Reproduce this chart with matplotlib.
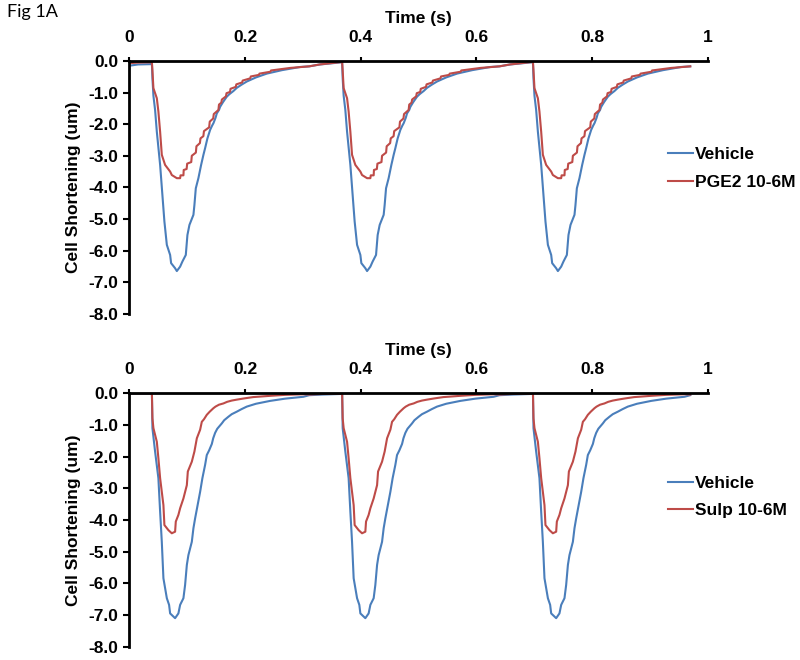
import numpy as np
import matplotlib
matplotlib.use("Agg")
import matplotlib.pyplot as plt

plt.rcParams['font.family'] = ['Liberation Sans', 'DejaVu Sans']
plt.rcParams['axes.unicode_minus'] = False

# beat onsets (s) and end of the recording
onsets = [0.039, 0.368, 0.698]
t_end = 0.970

# baseline before the first beat (time, value)
pre_t = [0.0, 0.015, 0.038]
top_pre_veh = [-0.15, -0.11, -0.10]
top_pre_pge = [-0.07, -0.05, -0.04]
bot_pre_veh = [0.0, 0.0, 0.0]
bot_pre_sulp = [0.0, 0.0, 0.0]

# one beat, time relative to onset (s)
top_veh_t = [0.0, 0.0009, 0.0026, 0.0055, 0.0085, 0.0142, 0.0182, 0.0216, 0.0258,
             0.0315, 0.0332, 0.0401, 0.0431, 0.0488, 0.0527, 0.0586, 0.0614, 0.0649,
             0.0718, 0.0735, 0.0759, 0.0804, 0.0851, 0.0891, 0.0920, 0.0960, 0.1007,
             0.1040, 0.1064, 0.1100, 0.1122, 0.1160, 0.1180, 0.1230, 0.1295, 0.1340,
             0.1410, 0.1468, 0.1550, 0.1641, 0.1800, 0.1987, 0.2250, 0.2563, 0.2720,
             0.2909, 0.3290]
top_veh = [-0.08, -0.55, -1.10, -1.55, -2.24, -3.29, -4.24, -5.08, -5.82,
           -6.14, -6.40, -6.56, -6.65, -6.51, -6.35, -6.14, -5.51, -5.19,
           -4.87, -4.56, -4.03, -3.71, -3.29, -2.97, -2.76, -2.45, -2.18,
           -2.05, -1.97, -1.80, -1.66, -1.55, -1.45, -1.30, -1.13, -1.05,
           -0.95, -0.85, -0.75, -0.65, -0.52, -0.40, -0.29, -0.19, -0.17,
           -0.11, -0.04]

top_pge_t = [0.0, 0.0009, 0.0026, 0.0085, 0.0112, 0.0142, 0.0171, 0.0228, 0.0315,
             0.0344, 0.0431, 0.0488, 0.0495, 0.0545, 0.0550, 0.0600, 0.0610, 0.0680,
             0.0690, 0.0760, 0.0770, 0.0830, 0.0840, 0.0890, 0.0900, 0.0990, 0.1000,
             0.1060, 0.1070, 0.1150, 0.1160, 0.1200, 0.1210, 0.1280, 0.1290, 0.1350,
             0.1360, 0.1450, 0.1460, 0.1560, 0.1570, 0.1700, 0.1710, 0.1850, 0.1860,
             0.2050, 0.2060, 0.2390, 0.2720, 0.2900, 0.3290]
top_pge = [-0.04, -0.30, -0.86, -1.18, -1.60, -2.24, -2.97, -3.29, -3.50,
           -3.61, -3.71, -3.71, -3.62, -3.62, -3.45, -3.42, -3.25, -3.20,
           -3.00, -2.90, -2.70, -2.60, -2.45, -2.38, -2.22, -2.10, -1.92,
           -1.82, -1.68, -1.55, -1.38, -1.32, -1.22, -1.12, -1.02, -0.98,
           -0.88, -0.82, -0.74, -0.68, -0.62, -0.55, -0.49, -0.44, -0.40,
           -0.34, -0.30, -0.22, -0.17, -0.11, -0.03]

bot_veh_t = [0.0, 0.0009, 0.0055, 0.0112, 0.0142, 0.0171, 0.0199, 0.0258, 0.0297,
             0.0315, 0.0401, 0.0458, 0.0488, 0.0545, 0.0574, 0.0604, 0.0631, 0.0690,
             0.0718, 0.0747, 0.0804, 0.0834, 0.0873, 0.0920, 0.0949, 0.0990, 0.1036,
             0.1060, 0.1093, 0.1130, 0.1209, 0.1250, 0.1323, 0.1380, 0.1468, 0.1550,
             0.1641, 0.1800, 0.2044, 0.2300, 0.2620, 0.2720, 0.2950, 0.3290]
bot_veh = [0.0, -1.10, -1.84, -2.68, -3.74, -4.69, -5.84, -6.47, -6.68,
           -6.95, -7.10, -6.95, -6.68, -6.47, -6.05, -5.42, -5.11, -4.69,
           -4.26, -3.95, -3.40, -3.11, -2.68, -2.26, -1.95, -1.80, -1.60,
           -1.42, -1.25, -1.12, -0.95, -0.85, -0.74, -0.66, -0.58, -0.50,
           -0.42, -0.33, -0.24, -0.17, -0.11, -0.06, -0.04, -0.02]

bot_sulp_t = [0.0, 0.0009, 0.0026, 0.0085, 0.0112, 0.0142, 0.0199, 0.0216, 0.0285,
              0.0344, 0.0401, 0.0413, 0.0458, 0.0488, 0.0545, 0.0604, 0.0621, 0.0690,
              0.0735, 0.0777, 0.0834, 0.0863, 0.0900, 0.0949, 0.1000, 0.1064, 0.1100,
              0.1160, 0.1237, 0.1300, 0.1380, 0.1468, 0.1600, 0.1750, 0.2044, 0.2300,
              0.2620, 0.2720, 0.2950, 0.3290]
bot_sulp = [-0.02, -0.79, -1.10, -1.53, -2.05, -2.68, -3.53, -4.16, -4.32,
            -4.42, -4.37, -4.05, -3.84, -3.63, -3.32, -2.90, -2.47, -2.16,
            -1.84, -1.42, -1.15, -0.90, -0.82, -0.68, -0.58, -0.47, -0.42,
            -0.36, -0.32, -0.27, -0.23, -0.20, -0.16, -0.12, -0.08, -0.05,
            -0.03, -0.04, -0.02, -0.01]

x_ticks = [0, 0.2, 0.4, 0.6, 0.8, 1]
x_labels = ["0", "0.2", "0.4", "0.6", "0.8", "1"]
y_ticks = [0, -1, -2, -3, -4, -5, -6, -7, -8]
y_labels = ["0.0", "-1.0", "-2.0", "-3.0", "-4.0", "-5.0", "-6.0", "-7.0", "-8.0"]

BLUE = "#4a7ebb"
RED = "#be4b48"
FS = 12.5


def build(pre_v, beat_t, beat_v):
    # place the read beat at each onset, cut at the end of the trace
    T = list(pre_t)
    V = list(pre_v)
    for on in onsets:
        for bt, bv in zip(beat_t, beat_v):
            if on + bt <= t_end + 1e-9:
                T.append(on + bt)
                V.append(bv)
    return np.array(T), np.array(V)


fig = plt.figure(figsize=(8, 6.6), dpi=100)
ax1 = fig.add_axes([0.1617, 0.5247, 0.7228, 0.3829])
ax2 = fig.add_axes([0.1617, 0.0202, 0.7228, 0.3839])

panels = [
    (ax1, top_pre_veh, top_veh_t, top_veh, top_pre_pge, top_pge_t, top_pge, "PGE2 10-6M", 0.5745),
    (ax2, bot_pre_veh, bot_veh_t, bot_veh, bot_pre_sulp, bot_sulp_t, bot_sulp, "Sulp 10-6M", 0.592),
]

for ax, pv, bt, bv, pr, rt, rv, lab, ly in panels:
    t, v = build(pv, bt, bv)
    ax.plot(t, v, color=BLUE, lw=1.5, label="Vehicle")
    t, v = build(pr, rt, rv)
    ax.plot(t, v, color=RED, lw=1.5, label=lab)

    ax.set_xlim(0, 1)
    ax.set_ylim(-8, 0)
    ax.spines['right'].set_visible(False)
    ax.spines['bottom'].set_visible(False)
    ax.spines['top'].set_linewidth(2)
    ax.spines['left'].set_linewidth(2)
    ax.xaxis.tick_top()
    ax.xaxis.set_label_position('top')
    ax.set_xticks(x_ticks)
    ax.set_xticklabels(x_labels, fontsize=FS, fontweight='bold')
    ax.set_yticks(y_ticks)
    ax.set_yticklabels(y_labels, fontsize=FS, fontweight='bold')
    ax.tick_params(axis='x', direction='out', length=3, width=1.5, pad=8.5)
    ax.tick_params(axis='y', direction='out', length=4, width=1.5, pad=4)
    ax.set_xlabel("Time (s)", fontsize=FS, fontweight='bold', labelpad=5)
    ax.set_ylabel("Cell Shortening (um)", fontsize=FS, fontweight='bold', labelpad=5)
    ax.legend(loc='center left', bbox_to_anchor=(0.931, ly), frameon=False,
              borderpad=0, borderaxespad=0, handlelength=1.45, handletextpad=0.1,
              labelspacing=0.7, prop={'weight': 'bold', 'size': FS})

fig.text(0.009, 0.994, "Fig 1A", fontsize=13, family=['Lato', 'DejaVu Sans'],
         va='top', ha='left')

fig.savefig("out.png", dpi=100)
